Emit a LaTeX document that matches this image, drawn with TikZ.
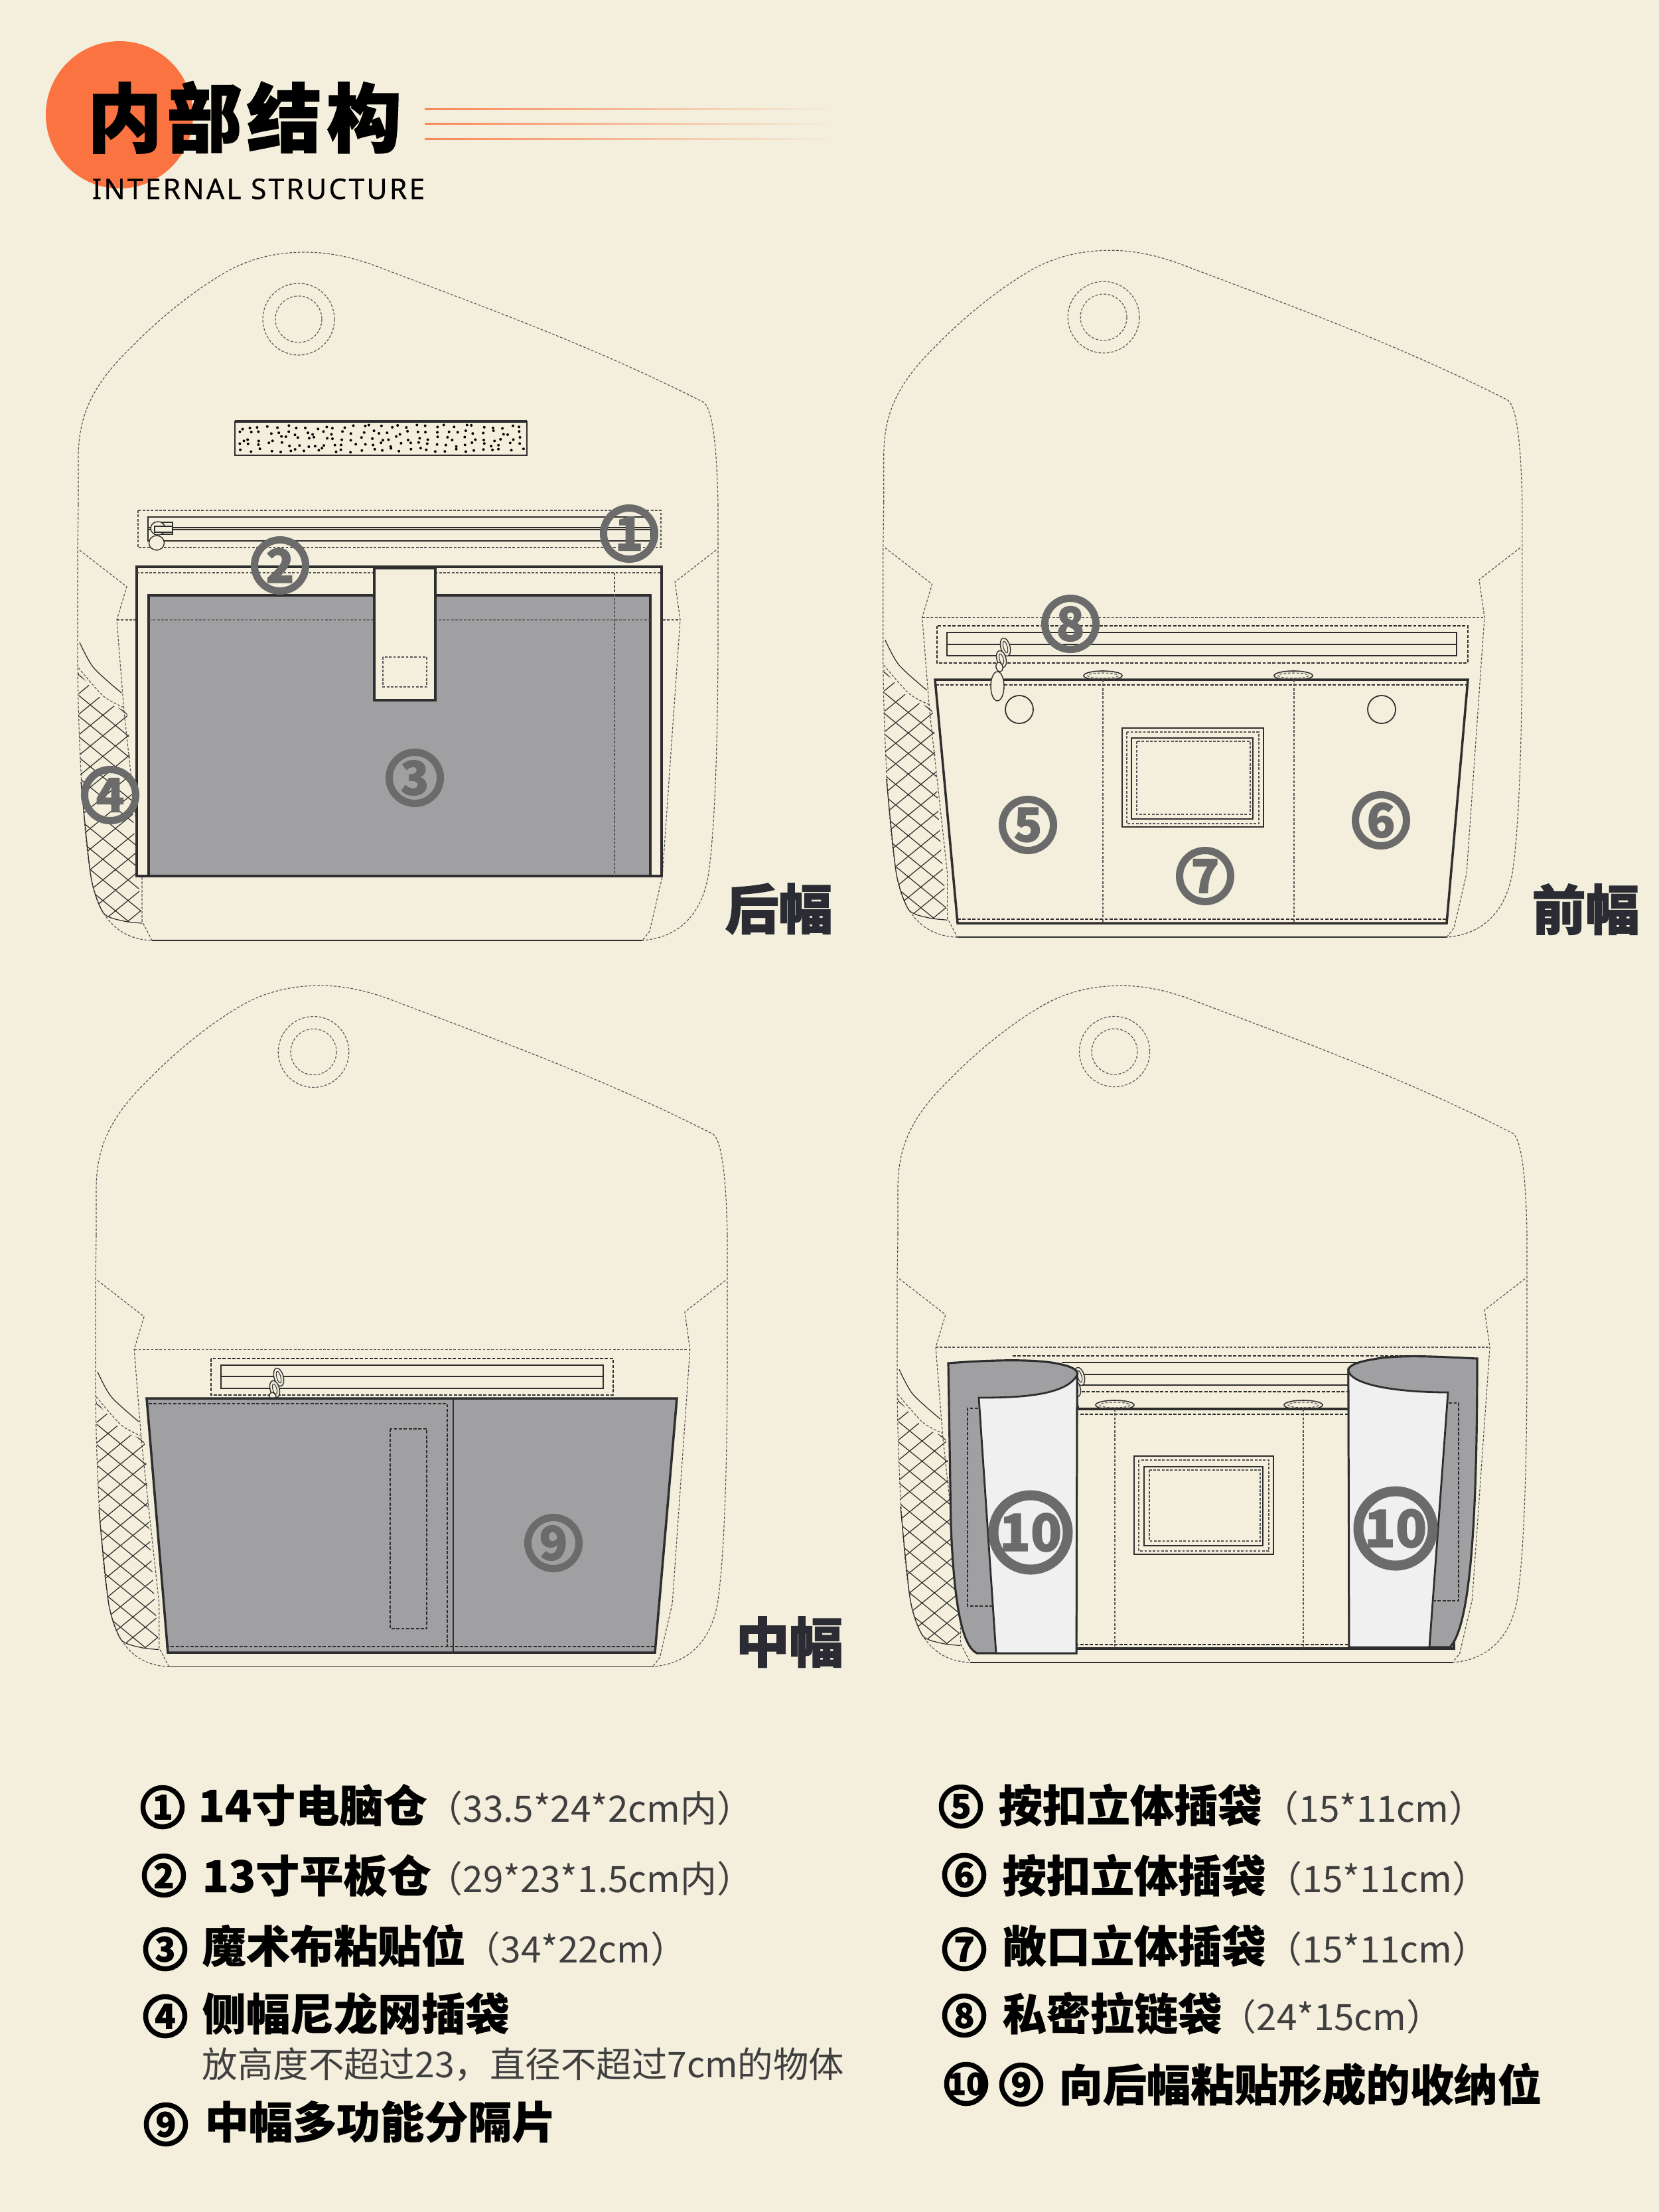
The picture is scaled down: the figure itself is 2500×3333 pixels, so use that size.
\documentclass[tikz,border=0pt]{standalone}
\usepackage{fontspec}
\usetikzlibrary{calc}
\newfontfamily\cjk{Noto Sans CJK SC}
\newfontfamily\cjkheavy[BoldFeatures={FakeBold=1.6}]{Noto Sans CJK SC}
\newfontfamily\cjkmid[BoldFeatures={FakeBold=.5}]{Noto Sans CJK SC}
\newfontfamily\latinsans[FakeBold=.35]{Noto Sans}
\definecolor{bg}{HTML}{F3EFDC}
\definecolor{ink}{HTML}{2E2E2E}
\definecolor{stitchc}{HTML}{555555}
\definecolor{panelgray}{HTML}{A0A0A2}
\definecolor{labelgray}{HTML}{6B6B6B}
\definecolor{accent}{HTML}{FB7340}
\definecolor{sheet}{HTML}{F0F0F0}
\definecolor{softtext}{HTML}{3F3F3F}
\definecolor{sidetext}{HTML}{2B2B33}
\tikzset{
  stitch/.style={draw=stitchc,line width=.33pt,dash pattern=on 1.1pt off .7pt},
  sew/.style={draw=ink,line width=.5pt,dash pattern=on 1.4pt off .7pt},
  edge/.style={draw=ink,line width=1pt,line join=miter},
  thinedge/.style={draw=ink,line width=.45pt},
  meshline/.style={draw=ink,line width=.35pt},
  numring/.style={circle,draw=labelgray,line width=.11cm,minimum size=.77cm,inner sep=-3pt,text=labelgray,font=\cjkheavy\bfseries\fontsize{20}{20}\selectfont},
  bigring/.style={circle,draw=labelgray,line width=.15cm,minimum size=1.12cm,inner sep=0pt},
  bigdigits/.style={inner sep=0pt,text=labelgray,font=\cjkheavy\bfseries\fontsize{22}{22}\selectfont},
  keyring/.style={circle,draw=black,line width=.075cm,minimum size=.59cm,inner sep=-3pt,text=black,font=\cjkheavy\bfseries\fontsize{14.5}{14.5}\selectfont},
  keyhead/.style={anchor=base west,inner sep=0pt,text=black,font=\cjkmid\bfseries\fontsize{18.8}{18.8}\selectfont},
  keysize/.style={anchor=base west,inner sep=0pt,text=softtext,font=\cjk\fontsize{15.6}{15.6}\selectfont},
  keynote/.style={anchor=base west,inner sep=0pt,text=softtext,font=\cjk\fontsize{15.2}{15.2}\selectfont},
  sidelabel/.style={anchor=base west,inner sep=0pt,text=sidetext,font=\cjkheavy\bfseries\fontsize{23}{23}\selectfont},
}
\newcommand{\bagshell}{%
  % flap
  \draw[stitch] (118,760) -- (118,700) .. controls (117,640) and (128,590) .. (199,522)
     .. controls (240,480) and (290,440) .. (332,415)
     .. controls (375,388) and (420,380) .. (460,380)
     .. controls (505,380) and (545,392) .. (580,406)
     .. controls (750,470) and (900,525) .. (1060,606)
     .. controls (1072,614) and (1080,660) .. (1082,760);
  % outer sides and bottom
  \draw[stitch] (118,760) -- (117,829) -- (117,949) .. controls (116,1060) and (122,1230) .. (137,1321)
     .. controls (145,1370) and (170,1415) .. (229,1417);
  \draw[stitch] (1082,760) -- (1082,949) .. controls (1082,1100) and (1078,1250) .. (1067,1321)
     .. controls (1058,1370) and (1030,1412) .. (968,1417);
  \draw[thinedge,line width=.4pt] (229,1417) -- (968,1417);
  % inner gusset folds
  \draw[stitch] (120,829) -- (191,884) -- (176,934) -- (187,1073) -- (214,1320) -- (214,1388) -- (229,1417);
  \draw[stitch] (1079,829) -- (1017,877) -- (1025,934) -- (998,1321) -- (979,1403) -- (968,1417);
  \draw[stitch] (176,934) -- (1025,934);
  % side pocket
  \draw[thinedge,line width=.35pt] plot[smooth] coordinates {(120,968) (141,1006) (183,1044)};
  \draw[stitch] plot[smooth] coordinates {(118,1006) (156,1049) (187,1066)};
  \begin{scope}
    \clip plot[smooth,tension=.4] coordinates {(118,1013) (156,1056) (191,1075) (195,1130) (202,1250) (214,1391)} -- plot[smooth,tension=.4] coordinates {(187,1388) (156,1376) (137,1321) (122,1178) (118,1013)} -- cycle;
    \foreach \i in {-20,...,20} {
      \draw[meshline] ({60+38*\i},1000) -- ({60+38*\i+600},{1000+490});
      \draw[meshline] ({60+38*\i},1000) -- ({60+38*\i-600},{1000+490});
    }
  \end{scope}
  \draw[thinedge,line width=.35pt] plot[smooth,tension=.4] coordinates {(214,1391) (187,1388) (156,1376) (137,1321) (122,1178)};
  % press stud on the flap
  \draw[stitch] (450,481) circle [radius=54];
  \draw[stitch] (450,481) circle [radius=35];
}
% zip puller, hanging from its top point
\newcommand{\zippull}[3]{%
  \begin{scope}[shift={(#1,#2)}]
    \draw[thinedge,fill=bg,line width=.4pt,rotate around={15:(-3,12)}] (-3,12) ellipse [x radius=7,y radius=14];
    \draw[thinedge,line width=.3pt,rotate around={15:(-3,12)}] (-3,12) ellipse [x radius=3,y radius=9];
    \draw[thinedge,fill=bg,line width=.4pt,rotate around={15:(-9,30)}] (-9,30) ellipse [x radius=7,y radius=13];
    \draw[thinedge,line width=.3pt,rotate around={15:(-9,30)}] (-9,30) ellipse [x radius=3,y radius=8];
    \draw[thinedge,fill=bg,line width=.4pt,rotate around={15:(-12,42)}] (-12,42) ellipse [x radius=5,y radius=7];
    #3
  \end{scope}}
\newcommand{\window}[8]{%
  \draw[thinedge] (#1,#2) rectangle (#3,#4);
  \draw[stitch] ({#1+7},{#2+6}) rectangle ({#3-7},{#4-5});
  \draw[edge,line width=.7pt] (#5,#6) rectangle (#7,#8);
  \draw[stitch] ({#5+8},{#6+5}) rectangle ({#7-4},{#8-7});
}
\begin{document}
\begin{tikzpicture}[x=0.01cm,y=-0.01cm]
\useasboundingbox (0,0) rectangle (2500,3333);
\fill[bg] (0,0) rectangle (2500,3333);

% ---------- heading ----------
\fill[accent] (180,173) circle [radius=111];
\node[anchor=base west,inner sep=0pt,text=black,font=\cjkheavy\bfseries\fontsize{32}{32}\selectfont] (title) at (131,220) {内\hspace{2.2pt}部\hspace{2.2pt}结\hspace{2.2pt}构};
\node[anchor=base west,inner sep=0pt,text=black,font=\latinsans\fontsize{12.2}{12.2}\selectfont\addfontfeature{LetterSpace=7}] (subtitle) at (138,300) {INTERNAL STRUCTURE};
\foreach \yy in {164,186,209} {
  \shade[left color=accent!85!bg,right color=bg] (640,{\yy-1}) rectangle (1260,{\yy+1});
}

% ---------- back panel ----------
\begin{scope}
  \bagshell
  \fill[bg,draw=ink,line width=.6pt] (354,635) rectangle (794,686);
  \draw[ink,line width=1pt] (354,635) -- (794,635);
  \pgfmathsetseed{11}
  \foreach \r in {0,...,4} {
    \foreach \c in {0,...,30} {
      \pgfmathsetmacro{\dx}{359+14*\c+10*rnd}
      \pgfmathsetmacro{\dy}{640+8.8*\r+7*rnd}
      \fill[black] (\dx,\dy) circle [radius=2];
    }
  }
  \draw[stitch] (208,769) rectangle (996,825);
  \draw[thinedge,line width=.6pt] (223,779) rectangle (981,815);
  \draw[thinedge,line width=.4pt] (223,795) -- (981,795) (223,798) -- (981,798);
  \draw[thinedge,fill=bg,line width=.4pt] (233,787) rectangle (260,805);
  \draw[thinedge,fill=bg,line width=.4pt] (238,796) ellipse [x radius=11,y radius=10];
  \draw[thinedge,fill=bg,line width=.4pt] (233,793) rectangle (260,802);
  \draw[thinedge,fill=bg,line width=.4pt] (236,818) ellipse [x radius=11.5,y radius=11];
  \draw[edge,fill=bg] (206,854) rectangle (997,1320);
  \draw[stitch] (206,863) -- (997,863);
  \draw[edge,fill=panelgray] (224,897) rectangle (980,1320);
  \draw[stitch,opacity=.7] (224,934) -- (980,934);
  \draw[stitch] (926,863) -- (926,1320);
  \draw[edge,fill=bg,line width=.9pt] (564,856) rectangle (656,1055);
  \draw[stitch] (577,990) rectangle (643,1035);
\end{scope}
\node[numring] (n1) at (948,804) {1};
\node[numring] (n2) at (422,852) {2};
\node[numring] (n3) at (625,1172) {3};
\node[numring] (n4) at (166,1198) {4};
\node[sidelabel] (backlabel) at (1092,1400) {后幅};

% ---------- front panel ----------
\begin{scope}[shift={(1214,-2)},xscale=.998,yscale=.998]
  \bagshell
\end{scope}
\draw[sew] (1412,943) rectangle (2212,999);
\draw[edge,line width=.8pt] (1427,953) rectangle (2195,988);
\draw[thinedge,line width=.6pt] (1427,971) -- (2195,971);
\foreach \tx in {1662,1949} {
  \draw[thinedge,fill=bg,line width=.45pt] (\tx,1018) ellipse [x radius=29,y radius=7];
  \draw[stitch] (\tx,1018) ellipse [x radius=23,y radius=4];
}
\draw[edge,fill=bg] (1409,1024) -- (2212,1024) -- (2180,1391) -- (1443,1391) -- cycle;
\draw[sew] (1410,1032) -- (2211,1032);
\draw[sew] (1443,1385) -- (2180,1385);
\draw[stitch] (1662,1024) -- (1662,1391);
\draw[stitch] (1950,1024) -- (1950,1391);
\zippull{1518}{963}{\draw[thinedge,fill=bg,line width=.4pt] (-15,71) ellipse [x radius=10,y radius=22];}
\draw[thinedge,line width=.5pt] (1536,1069) circle [radius=21];
\draw[thinedge,line width=.5pt] (2082,1069) circle [radius=21];
\window{1691}{1097}{1904}{1246}{1705}{1112}{1888}{1234}
\node[numring] (n5) at (1549,1243) {5};
\node[numring] (n6) at (2081,1236) {6};
\node[numring] (n7) at (1816,1320) {7};
\node[numring] (n8) at (1613,940) {8};
\node[sidelabel] (frontlabel) at (2308,1401) {前幅};

% ---------- middle panel ----------
\begin{scope}[shift={(28.6,1109)},xscale=.9865,yscale=.9896]
  \bagshell
\end{scope}
\draw[sew] (318,2047) rectangle (924,2102);
\draw[edge,line width=.7pt] (333,2057) rectangle (909,2092);
\draw[thinedge,line width=.6pt] (333,2074) -- (909,2074);
\zippull{423}{2063}{}
\draw[edge,fill=panelgray] (221,2107) -- (1020,2107) -- (987,2490) -- (253,2490) -- cycle;
\draw[edge,line width=.8pt] (683,2107) -- (683,2490);
\draw[sew] (224,2115) -- (674,2115) -- (674,2481);
\draw[sew] (250,2481) -- (987,2481);
\draw[sew] (588,2153) rectangle (643,2454);
\node[numring] (n9) at (834,2325) {9};
\node[sidelabel] (middlelabel) at (1108,2505) {中幅};

% ---------- fourth view, side flaps folded back ----------
\begin{scope}[shift={(1237,1111.5)},xscale=.9834,yscale=.9834]
  \bagshell
\end{scope}
\draw[sew] (1526,2043) -- (2127,2043);
\draw[edge,line width=.7pt] (1600,2053) -- (2060,2053);
\draw[thinedge,line width=.5pt] (1620,2071) -- (2040,2071);
\draw[edge,line width=.7pt] (1620,2087) -- (2040,2087);
\draw[sew] (1630,2097) -- (2040,2097);
\zippull{1630}{2062}{\draw[thinedge,fill=bg,line width=.4pt] (-12,67) ellipse [x radius=8,y radius=20];}
\foreach \tx in {1680,1964} {
  \draw[thinedge,fill=bg,line width=.45pt] (\tx,2117) ellipse [x radius=29,y radius=7];
  \draw[stitch] (\tx,2117) ellipse [x radius=23,y radius=4];
}
\draw[edge,fill=bg] (1480,2123) -- (2191,2123) -- (2191,2484) -- (1480,2484) -- cycle;
\draw[sew] (1480,2131) -- (2191,2131);
\draw[sew] (1480,2478) -- (2185,2478);
\draw[stitch] (1680,2123) -- (1680,2484);
\draw[stitch] (1964,2123) -- (1964,2484);
\window{1709}{2194}{1919}{2342}{1724}{2210}{1903}{2329}
% left folded flap
\draw[edge,line width=.9pt,fill=panelgray] (1429,2054) .. controls (1480,2050) and (1560,2046) .. (1600,2056) .. controls (1618,2060) and (1626,2066) .. (1623,2072) -- (1622,2491) -- (1472,2491) .. controls (1450,2480) and (1438,2420) .. (1433,2300) -- cycle;
\draw[sew] (1496,2122) -- (1458,2122) -- (1458,2420) -- (1496,2420);
\draw[edge,line width=.8pt,fill=sheet] (1475,2106) .. controls (1530,2106) and (1606,2104) .. (1623,2072) -- (1622,2491) -- (1501,2491) -- cycle;
% right folded flap
\draw[edge,line width=.9pt,fill=panelgray] (2226,2047) .. controls (2180,2045) and (2110,2040) .. (2070,2048) .. controls (2045,2052) and (2030,2058) .. (2032,2066) -- (2033,2482) -- (2185,2482) .. controls (2215,2450) and (2226,2300) .. cycle;
\draw[sew] (2161,2114) -- (2198,2114) -- (2198,2412) -- (2161,2412);
\draw[edge,line width=.8pt,fill=sheet] (2032,2066) .. controls (2040,2090) and (2120,2098) .. (2182,2098) -- (2154,2482) -- (2033,2482) -- cycle;
\node[bigring] (n10aring) at (1553,2309) {};
\node[bigdigits] (n10a) at (n10aring.center) {10};
\node[bigring] (n10bring) at (2103,2303) {};
\node[bigdigits] (n10b) at (n10bring.center) {10};

% ---------- key ----------
\node[keyring] (k1) at (245,2723) {1};
\node[keyhead] (k1h) at (298,2745) {14寸电脑仓};
\node[keysize] (k1s) at (642,2745) {（33.5*24*2cm内）};
\node[keyring] (k2) at (247,2826) {2};
\node[keyhead] (k2h) at (304,2851) {13寸平板仓};
\node[keysize] (k2s) at (642,2851) {（29*23*1.5cm内）};
\node[keyring] (k3) at (249,2937) {3};
\node[keyhead] (k3h) at (304,2957) {魔术布粘贴位};
\node[keysize] (k3s) at (699,2957) {（34*22cm）};
\node[keyring] (k4) at (249,3038) {4};
\node[keyhead] (k4h) at (304,3059) {侧幅尼龙网插袋};
\node[keynote] (k4n) at (304,3130) {放高度不超过23，直径不超过7cm的物体};
\node[keyring] (k9) at (250,3201) {9};
\node[keyhead] (k9h) at (308,3222) {中幅多功能分隔片};
\node[keyring] (k5) at (1448,2722) {5};
\node[keyhead] (k5h) at (1504,2745) {按扣立体插袋};
\node[keysize] (k5s) at (1902,2745) {（15*11cm）};
\node[keyring] (k6) at (1453,2825) {6};
\node[keyhead] (k6h) at (1510,2851) {按扣立体插袋};
\node[keysize] (k6s) at (1907,2851) {（15*11cm）};
\node[keyring] (k7) at (1453,2937) {7};
\node[keyhead] (k7h) at (1510,2957) {敞口立体插袋};
\node[keysize] (k7s) at (1907,2957) {（15*11cm）};
\node[keyring] (k8) at (1453,3037) {8};
\node[keyhead] (k8h) at (1510,3059) {私密拉链袋};
\node[keysize] (k8s) at (1838,3059) {（24*15cm）};
\node[keyring,font=\cjkheavy\bfseries\fontsize{13}{13}\selectfont] (k10) at (1456,3140) {10};
\node[keyring] (k9b) at (1539,3141) {9};
\node[keyhead] (k10h) at (1595,3166) {向后幅粘贴形成的收纳位};
\end{tikzpicture}
\end{document}
